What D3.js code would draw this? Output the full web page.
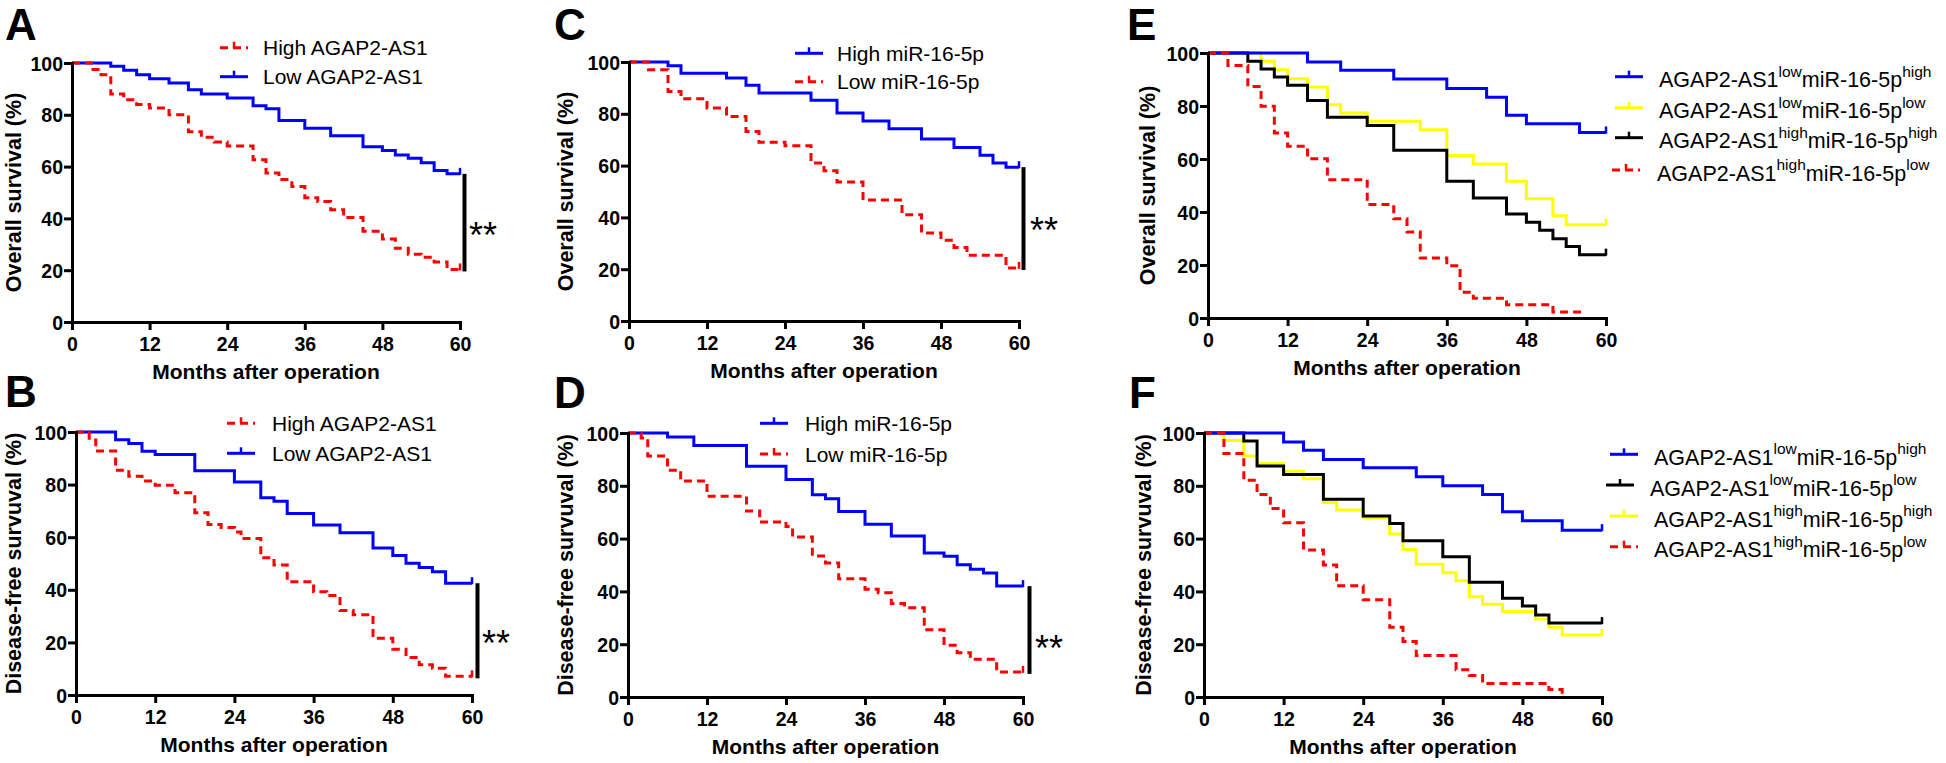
<!DOCTYPE html>
<html><head><meta charset="utf-8">
<script src="https://cdn.jsdelivr.net/npm/d3@7"></script>
<style>
html,body{margin:0;padding:0;background:#fff;}
svg{display:block;background:#fff;}
text{font-family:'Liberation Sans',Arial,Helvetica,sans-serif;fill:#000;}
</style>
</head><body>
<svg id="chart" width="1946" height="763"></svg>
<script>
// ---------------- DATA ----------------
const monthTicks = [0, 12, 24, 36, 48, 60];
const survivalTicks = [0, 20, 40, 60, 80, 100];
const xTitle = "Months after operation";
const yTitleOS = "Overall survival (%)";
const yTitleDFS = "Disease-free survuval (%)";
const sigLabel = "**";

// Step data: [month, survival % after the event]
// Panel A – overall survival by AGAP2-AS1
const A_highAGAP2 = [[0,100],[3,97.5],[4.5,95.5],[6,88],[8,85.8],[10,84],[12,82.6],[15,80],[18,73.5],[20,71.3],[22,69.5],[24,68],[28,62.6],[30,57.5],[32,55],[34,52.3],[36,48],[38,46.5],[40,43.3],[42,40.3],[45,35],[48,32],[50,28.5],[52,26.2],[54,25],[56,23.2],[58,20.3],[60,20.3]];
const A_lowAGAP2 = [[0,100],[6,98.7],[8,97.2],[10,95.5],[12,93.9],[15,92.3],[18,89.7],[20,88],[24,86.5],[28,83.5],[30,82.3],[32,77.8],[36,74.8],[40,71.9],[45,67.7],[48,66.2],[50,64.5],[52,63.2],[54,61.5],[56,58.5],[58,57.2],[60,57.2]];
// Panel B – disease-free survival by AGAP2-AS1
const B_highAGAP2 = [[0,100],[2,97],[3,92.8],[6,85.5],[8,83.2],[10,81.4],[12,79.8],[15,76.9],[18,69.3],[20,64.8],[22,63.7],[24,62],[25,59.5],[28,52.2],[30,49.4],[32,43.1],[36,39.3],[38,37.8],[40,32.1],[42,30.5],[45,21.6],[48,17.4],[50,14.3],[52,11.5],[54,10.2],[56,7.1],[60,7.1]];
const B_lowAGAP2 = [[0,100],[6,97.1],[8,95.6],[10,92.7],[12,91.4],[18,85.3],[24,81],[28,75],[30,73.7],[32,69],[36,64.6],[40,61.7],[45,55.9],[48,53],[50,50.1],[52,48.5],[54,46.9],[56,42.5],[60,42.5]];
// Panel C – overall survival by miR-16-5p
const C_highMiR = [[0,100],[6,98.6],[8,95.7],[15,93.8],[18,91],[20,88],[28,85.2],[32,80.3],[36,77.2],[40,74.2],[45,70.3],[50,67],[54,64],[56,61],[58,59.4],[60,59.4]];
const C_lowMiR = [[0,100],[3,97],[6,88.6],[8,85.8],[12,82.2],[15,79],[18,73.2],[20,69],[24,67.7],[28,61],[30,58],[32,53.7],[36,46.7],[42,41],[45,34],[48,31.2],[50,28.4],[52,25.4],[58,20.5],[60,20.5]];
// Panel D – disease-free survival by miR-16-5p
const D_highMiR = [[0,100],[6,98.5],[10,95.3],[18,87.4],[24,82.4],[28,76.6],[30,75.1],[32,70.3],[36,65.4],[40,61],[45,54.5],[48,53.3],[50,50.1],[52,48.4],[54,47],[56,42],[60,42]];
const D_lowMiR = [[0,100],[2,98.1],[3,91.3],[6,85.9],[8,81.8],[12,76],[18,70.5],[20,66.3],[24,64.6],[25,60.6],[28,53.4],[30,50.8],[32,44.8],[36,40.8],[38,39.5],[40,35.4],[42,33.8],[45,25.5],[48,19.6],[50,16.8],[52,14.3],[56,9.5],[60,9.5]];
// Panel E – overall survival, combined groups
const E_lowHigh = [[0,100],[15,96.6],[20,93.5],[28,90.2],[36,86.6],[42,83.3],[45,76.5],[48,73.3],[56,70],[60,70]];
const E_lowLow = [[0,100],[8,96.9],[10,93.7],[12,90.3],[15,87.2],[18,80.5],[20,77.4],[24,74.2],[32,71],[36,61.3],[40,58.1],[45,51.6],[48,45],[52,38.6],[54,35.2],[60,35.2]];
const E_highHigh = [[0,100],[6,96.9],[8,94],[10,90.9],[12,87.8],[15,82.1],[18,75.8],[24,72.6],[28,63.3],[36,51.6],[40,45.3],[45,39.2],[48,36.1],[50,33.1],[52,29.9],[54,27],[56,23.9],[60,23.9]];
const E_highLow = [[0,100],[3,95.3],[6,87.4],[8,79.9],[10,69.8],[12,64.8],[15,60.1],[18,52.2],[24,42.8],[28,37.5],[30,32.5],[32,22.6],[36,19.7],[38,9.7],[40,7.5],[45,5],[52,2.3],[56,0]];
// Panel F – disease-free survival, combined groups
const F_lowHigh = [[0,100],[12,96.6],[15,93.5],[18,90],[24,86.8],[32,83.4],[36,80],[42,76.7],[45,70.2],[48,66.8],[54,63.2],[60,63.2]];
const F_lowLow = [[0,100],[6,97],[8,87.5],[12,84.3],[18,74.9],[24,68.6],[28,65.7],[30,59.2],[36,53.1],[40,43.5],[45,37.4],[48,34.5],[50,31.1],[52,28],[60,28]];
const F_highHigh = [[0,100],[3,97.2],[6,91.3],[8,88.4],[12,85.5],[15,82.7],[18,73.7],[20,70.8],[24,67.9],[28,61.7],[30,55.9],[32,50.3],[36,47.1],[38,44],[40,38],[42,35.1],[45,32.4],[50,29.5],[52,26.4],[54,23.5],[60,23.5]];
const F_highLow = [[0,100],[3,92.2],[6,82.1],[8,76.7],[10,71.4],[12,66],[15,55.7],[18,50],[20,42.1],[24,36.8],[28,26.4],[30,21],[32,15.7],[38,10.3],[40,8.1],[42,5.1],[52,2.8],[54,0]];

const labHighAGAP = "High AGAP2-AS1", labLowAGAP = "Low AGAP2-AS1";
const labHighMiR = "High miR-16-5p", labLowMiR = "Low miR-16-5p";
// combined labels: [base, sup, base, sup]
const labLowHigh = ["AGAP2-AS1","low","miR-16-5p","high"];
const labLowLow = ["AGAP2-AS1","low","miR-16-5p","low"];
const labHighHigh = ["AGAP2-AS1","high","miR-16-5p","high"];
const labHighLow = ["AGAP2-AS1","high","miR-16-5p","low"];

// ---------------- STYLE ----------------
const RED = "#ff0000", BLUE = "#0000ff", YELLOW = "#ffff00", BLACK = "#000000";

const panels = [
  {letter:"A", lx:5, ly:40, xr:[72,460], yr:[322,63], ytitle:yTitleOS, ytx:13,
   series:[{d:A_lowAGAP2,c:BLUE},{d:A_highAGAP2,c:RED,dash:true}],
   legend:{x:220, tx:263, ys:[47.7,76.7], items:[{l:labHighAGAP,c:RED,dash:true},{l:labLowAGAP,c:BLUE}]},
   sig:{x:464.5, hi:A_lowAGAP2, lo:A_highAGAP2, sx:469, sdy:5}},
  {letter:"B", lx:5, ly:407, xr:[76,472], yr:[695,432], ytitle:yTitleDFS, ytx:13.5,
   series:[{d:B_lowAGAP2,c:BLUE},{d:B_highAGAP2,c:RED,dash:true}],
   legend:{x:227, tx:272, ys:[423.3,453.3], items:[{l:labHighAGAP,c:RED,dash:true},{l:labLowAGAP,c:BLUE}]},
   sig:{x:477.5, hi:B_lowAGAP2, lo:B_highAGAP2, sx:482, sdy:5}},
  {letter:"C", lx:554, ly:40, xr:[629,1019], yr:[321,62], ytitle:yTitleOS, ytx:565,
   series:[{d:C_highMiR,c:BLUE},{d:C_lowMiR,c:RED,dash:true}],
   legend:{x:795, tx:837, ys:[53.3,81.7], items:[{l:labHighMiR,c:BLUE},{l:labLowMiR,c:RED,dash:true}]},
   sig:{x:1023.5, hi:C_highMiR, lo:C_lowMiR, sx:1030, sdy:4}},
  {letter:"D", lx:554, ly:408, xr:[628,1023], yr:[697,433], ytitle:yTitleDFS, ytx:565,
   series:[{d:D_highMiR,c:BLUE},{d:D_lowMiR,c:RED,dash:true}],
   legend:{x:760, tx:805, ys:[423.3,454], items:[{l:labHighMiR,c:BLUE},{l:labLowMiR,c:RED,dash:true}]},
   sig:{x:1029.5, hi:D_highMiR, lo:D_lowMiR, sx:1035, sdy:10}},
  {letter:"E", lx:1127, ly:40, xr:[1208,1606], yr:[318,53], ytitle:yTitleOS, ytx:1147,
   series:[{d:E_lowLow,c:YELLOW},{d:E_highHigh,c:BLACK},{d:E_lowHigh,c:BLUE},{d:E_highLow,c:RED,dash:true}],
   legend:{combo:true, rows:[
     {x:1615, tx:1659, y:76.7, l:labLowHigh, c:BLUE},
     {x:1615, tx:1659, y:107.7, l:labLowLow, c:YELLOW},
     {x:1615, tx:1659, y:137.7, l:labHighHigh, c:BLACK},
     {x:1612, tx:1657, y:170, l:labHighLow, c:RED, dash:true}]}},
  {letter:"F", lx:1129, ly:408, xr:[1204,1602], yr:[697,433], ytitle:yTitleDFS, ytx:1143,
   series:[{d:F_highHigh,c:YELLOW},{d:F_lowLow,c:BLACK},{d:F_lowHigh,c:BLUE},{d:F_highLow,c:RED,dash:true}],
   legend:{combo:true, rows:[
     {x:1610, tx:1654, y:454.3, l:labLowHigh, c:BLUE},
     {x:1606, tx:1650, y:485, l:labLowLow, c:BLACK},
     {x:1610, tx:1654, y:516, l:labHighHigh, c:YELLOW},
     {x:1610, tx:1654, y:546.7, l:labHighLow, c:RED, dash:true}]}}
];

const svg = d3.select("#chart");
svg.append("rect").attr("width",1946).attr("height",763).attr("fill","#fff");

function legendSample(g, x, y, color, dash){
  g.append("line").attr("x1",x).attr("x2",x+28).attr("y1",y).attr("y2",y)
    .attr("stroke",color).attr("stroke-width",3)
    .attr("stroke-dasharray", dash ? "8,5" : null);
  g.append("line").attr("x1",x+14).attr("x2",x+14).attr("y1",y).attr("y2",y-6)
    .attr("stroke",color).attr("stroke-width",2.5);
}

panels.forEach(p => {
  const g = svg.append("g");
  const x = d3.scaleLinear().domain([0,60]).range(p.xr);
  const y = d3.scaleLinear().domain([0,100]).range(p.yr);

  // panel letter
  g.append("text").attr("x",p.lx).attr("y",p.ly).text(p.letter)
    .style("font-size","44px").style("font-weight","bold");

  // curves
  const line = d3.line().x(d=>x(d[0])).y(d=>y(d[1])).curve(d3.curveStepAfter);
  p.series.forEach(s => {
    g.append("path").datum(s.d).attr("d",line).attr("fill","none")
      .attr("stroke",s.c).attr("stroke-width",3)
      .attr("stroke-dasharray", s.dash ? "8,5" : null);
    const last = s.d[s.d.length-1];
    if (last[1] > 0) {
      g.append("line").attr("x1",x(last[0])).attr("x2",x(last[0]))
        .attr("y1",y(last[1])+1).attr("y2",y(last[1])-6)
        .attr("stroke",s.c).attr("stroke-width",2.5);
    }
  });

  // axes
  const xa = g.append("g").attr("transform",`translate(0,${p.yr[0]})`)
    .call(d3.axisBottom(x).tickValues(monthTicks).tickSize(8).tickSizeOuter(0));
  const ya = g.append("g").attr("transform",`translate(${p.xr[0]},0)`)
    .call(d3.axisLeft(y).tickValues(survivalTicks).tickSize(8).tickSizeOuter(0));
  [xa, ya].forEach(a => {
    a.attr("font-family",null).attr("font-size",null);
    a.select(".domain").attr("stroke","#000").attr("stroke-width",3).attr("stroke-linecap","square");
    a.selectAll(".tick line").attr("stroke","#000").attr("stroke-width",3);
    a.selectAll(".tick text").style("font-size","19.5px").style("font-weight","bold");
  });
  xa.selectAll(".tick text").attr("y",29).attr("dy",null);
  ya.selectAll(".tick text").attr("x",-9).attr("dy","0.36em");

  // axis titles
  g.append("text").attr("x",(p.xr[0]+p.xr[1])/2).attr("y",p.yr[0]+57)
    .attr("text-anchor","middle").text(xTitle)
    .style("font-size","21px").style("font-weight","bold");
  const ym = (p.yr[0]+p.yr[1])/2;
  g.append("text").attr("transform",`translate(${p.ytx},${ym}) rotate(-90)`)
    .attr("text-anchor","middle").attr("dy","0.36em").text(p.ytitle)
    .style("font-size","21.5px").style("font-weight","bold");

  // legend
  if (!p.legend.combo) {
    p.legend.items.forEach((it,i) => {
      const ly = p.legend.ys[i];
      legendSample(g, p.legend.x, ly, it.c, it.dash);
      g.append("text").attr("x",p.legend.tx).attr("y",ly+7.5).text(it.l)
        .style("font-size","21px");
    });
  } else {
    p.legend.rows.forEach(r => {
      legendSample(g, r.x, r.y, r.c, r.dash);
      const t = g.append("text").attr("x",r.tx).attr("y",r.y+10.5).style("font-size","21.5px");
      t.append("tspan").text(r.l[0]);
      t.append("tspan").attr("dy",-10.5).style("font-size","15.5px").text(r.l[1]);
      t.append("tspan").attr("dy",10.5).style("font-size","21.5px").text(r.l[2]);
      t.append("tspan").attr("dy",-10.5).style("font-size","15.5px").text(r.l[3]);
    });
  }

  // significance bar
  if (p.sig) {
    const vHi = p.sig.hi[p.sig.hi.length-1][1];
    const vLo = p.sig.lo[p.sig.lo.length-1][1];
    const y1 = y(vHi), y2 = y(vLo) + 2;
    g.append("line").attr("x1",p.sig.x).attr("x2",p.sig.x).attr("y1",y1).attr("y2",y2)
      .attr("stroke","#000").attr("stroke-width",4);
    g.append("text").attr("x",p.sig.sx).attr("y",(y1+y2)/2 + p.sig.sdy + 20.5)
      .text(sigLabel).style("font-size","36px");
  }
});
</script>
</body></html>
